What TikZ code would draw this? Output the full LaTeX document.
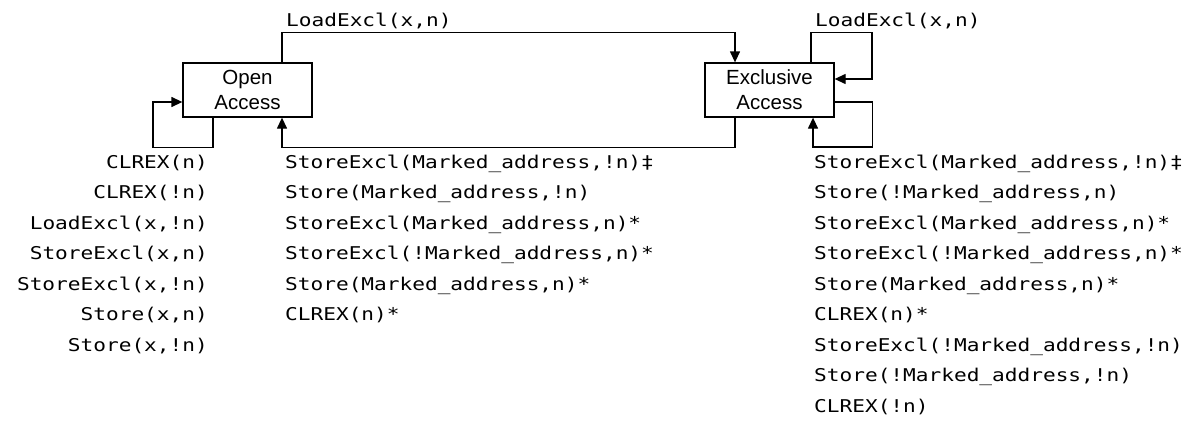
\documentclass[tikz,border=0pt]{standalone}
\usepackage{fontspec}
\setmainfont{Liberation Sans}
\newfontfamily\codefont[FakeStretch=1.2]{DejaVu Sans Mono}
\usetikzlibrary{arrows.meta}
\begin{document}
\begin{tikzpicture}[x=1pt,y=-1pt,
  state/.style={draw, line width=1.3pt, minimum width=129pt, minimum height=54pt, inner sep=0pt, align=center, font=\fontsize{20.5}{25}\selectfont},
  conn/.style={line width=1.3pt, -{Triangle[length=11pt,width=10pt]}},
  lbl/.style={font=\codefont\fontsize{17.6}{30.5}\selectfont, inner sep=0pt},
]
\useasboundingbox (0,0) rectangle (1194,423);
\node[state] (open) at (247.5,90) {Open\\Access};
\node[state] (excl) at (769.5,90) {Exclusive\\Access};

% transitions
\draw[conn] ([xshift=34.5pt]open.north) -- ++(0,-30) -| ([xshift=-34.5pt]excl.north);
\draw[conn] ([xshift=-34.5pt]excl.south) -- ++(0,30) -| ([xshift=34.5pt]open.south);
\draw[conn] ([xshift=-34.5pt]open.south) -- ++(0,30) -- ++(-60,0) |- ([yshift=-12pt]open.west);
\draw[conn] ([xshift=41.5pt]excl.north) -- ++(0,-30) -- ++(61,0) |- ([yshift=11pt]excl.east);
\draw[conn] ([yshift=-12pt]excl.east) -- ++(38,0) -- ++(0,45) -| ([xshift=43.5pt]excl.south);

% labels
\node[lbl, anchor=base west] (top1) at (286,26) {LoadExcl(x,n)};
\node[lbl, anchor=base west] (top2) at (815,26) {LoadExcl(x,n)};

\foreach [count=\i] \t in {{CLREX(n)},{CLREX(!n)},{LoadExcl(x,!n)},{StoreExcl(x,n)},{StoreExcl(x,!n)},{Store(x,n)},{Store(x,!n)}}
  \node[lbl, anchor=base east] (L\i) at (208,{168+30.5*(\i-1)}) {\t};

\foreach [count=\i] \t in {{StoreExcl(Marked\_address,!n)‡},{Store(Marked\_address,!n)},{StoreExcl(Marked\_address,n)*},{StoreExcl(!Marked\_address,n)*},{Store(Marked\_address,n)*},{CLREX(n)*}}
  \node[lbl, anchor=base west] (M\i) at (285,{168+30.5*(\i-1)}) {\t};

\foreach [count=\i] \t in {{StoreExcl(Marked\_address,!n)‡},{Store(!Marked\_address,n)},{StoreExcl(Marked\_address,n)*},{StoreExcl(!Marked\_address,n)*},{Store(Marked\_address,n)*},{CLREX(n)*},{StoreExcl(!Marked\_address,!n)},{Store(!Marked\_address,!n)},{CLREX(!n)}}
  \node[lbl, anchor=base west] (R\i) at (814,{168+30.5*(\i-1)}) {\t};
\end{tikzpicture}
\end{document}
